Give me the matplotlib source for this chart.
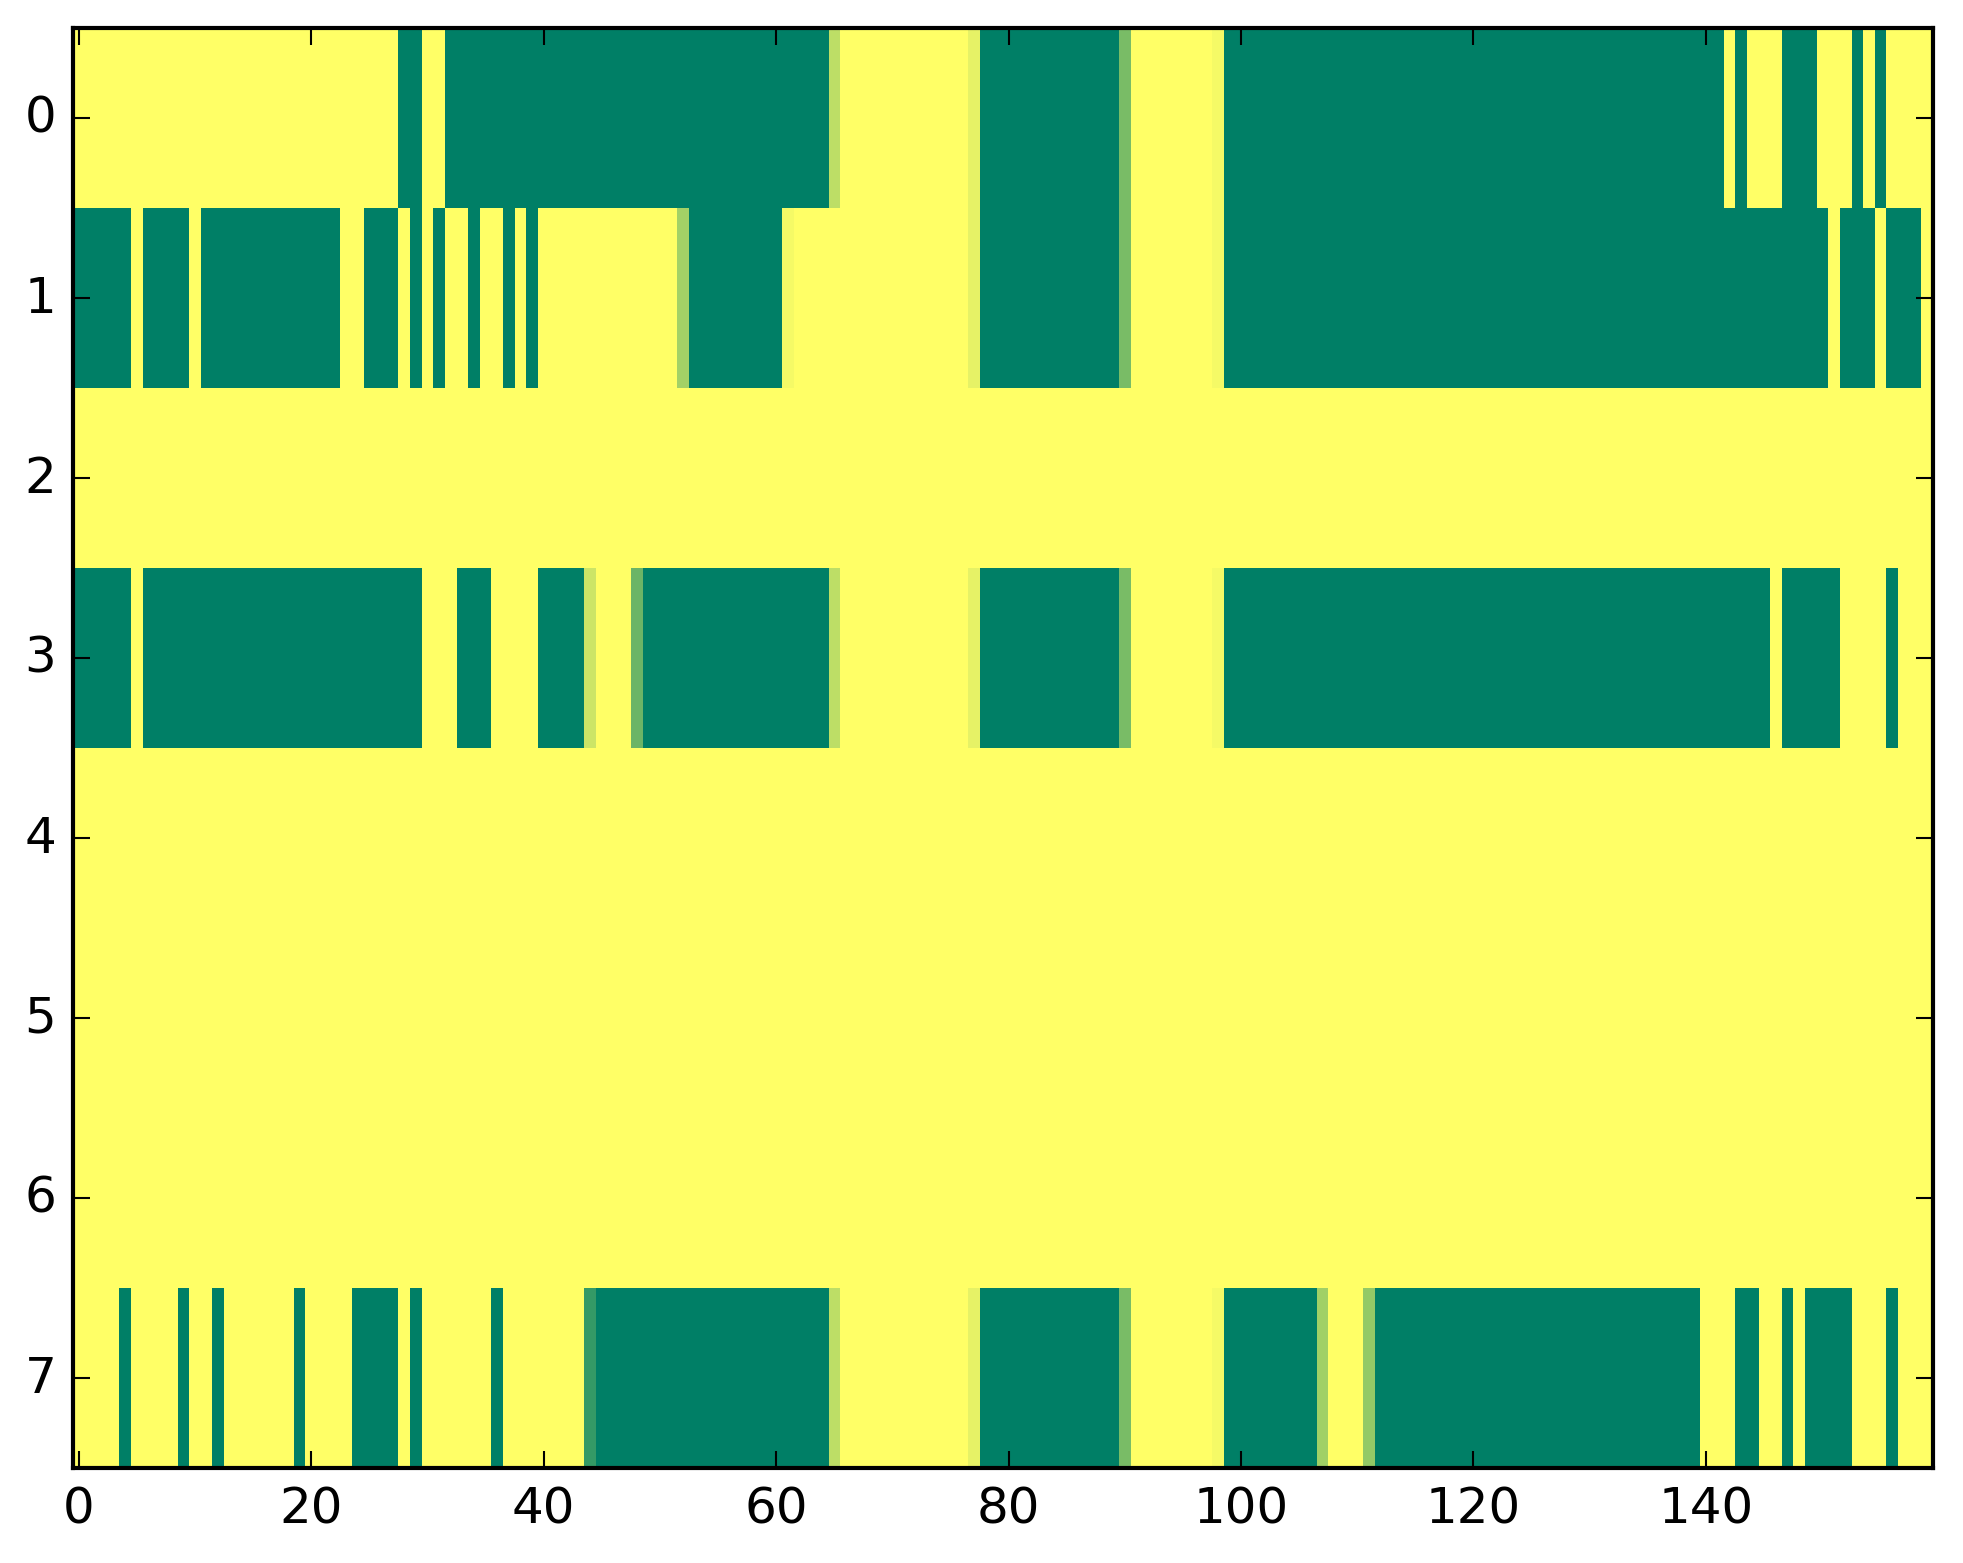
import numpy as np
import matplotlib
matplotlib.use('Agg')
import matplotlib.pyplot as plt

# each row as runs of (value, length); 160 columns per row
row0 = [(1, 28), (0, 2), (1, 2), (0, 33), (0.74, 1), (1, 11), (0.9, 1), (0, 12),
        (0.48, 1), (1, 7), (0.96, 1), (0, 43), (1, 1), (0, 1), (1, 3), (0, 3),
        (1, 3), (0, 1), (1, 1), (0, 1), (1, 4)]
row1 = [(0, 5), (1, 1), (0, 4), (1, 1), (0, 12), (1, 2), (0, 3), (1, 1), (0, 1),
        (1, 1), (0, 1), (1, 2), (0, 1), (1, 2), (0, 1), (1, 1), (0, 1), (1, 12),
        (0.64, 1), (0, 8), (0.96, 1), (1, 15), (0.9, 1), (0, 12), (0.48, 1),
        (1, 7), (0.96, 1), (0, 52), (1, 1), (0, 3), (1, 1), (0, 3), (1, 1)]
row2 = [(1, 160)]
row3 = [(0, 5), (1, 1), (0, 24), (1, 3), (0, 3), (1, 4), (0, 4), (0.8, 1), (1, 3),
        (0.42, 1), (0, 16), (0.74, 1), (1, 11), (0.9, 1), (0, 12), (0.48, 1),
        (1, 7), (0.96, 1), (0, 47), (1, 1), (0, 5), (1, 4), (0, 1), (1, 3)]
row4 = [(1, 160)]
row5 = [(1, 160)]
row6 = [(1, 160)]
row7 = [(1, 4), (0, 1), (1, 4), (0, 1), (1, 2), (0, 1), (1, 6), (0, 1), (1, 4),
        (0, 4), (1, 1), (0, 1), (1, 6), (0, 1), (1, 7), (0.21, 1), (0, 20),
        (0.74, 1), (1, 11), (0.9, 1), (0, 12), (0.48, 1), (1, 7), (0.96, 1),
        (0, 8), (0.63, 1), (1, 3), (0.58, 1), (0, 28), (1, 3), (0, 2), (1, 2),
        (0, 1), (1, 1), (0, 4), (1, 3), (0, 1), (1, 3)]

rows = [row0, row1, row2, row3, row4, row5, row6, row7]


def expand(runs):
    vals, counts = zip(*runs)
    return np.repeat(vals, counts)


data = np.vstack([expand(r) for r in rows])

plt.style.use('classic')
fig = plt.figure(figsize=(1963 / 300, 1564 / 300))
ax = fig.add_axes([0.0372, 0.0609, 0.9473, 0.9206])
ax.imshow(data, cmap='summer', aspect='auto', interpolation='nearest')

plt.savefig('out.png', dpi=300)
